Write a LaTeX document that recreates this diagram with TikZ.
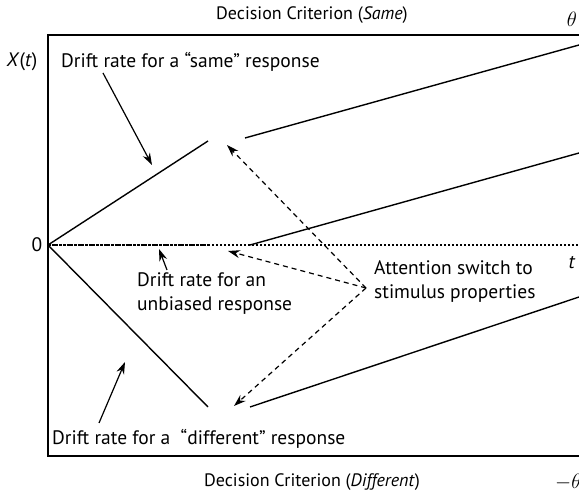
\documentclass[tikz,border=0pt]{standalone}
\usepackage{fontspec}
\setmainfont{PT Sans}
\usetikzlibrary{arrows.meta}
\tikzset{
  lbl/.style={inner sep=0pt, font=\fontsize{19.5}{24}\selectfont},
  ttl/.style={inner sep=0pt, font=\fontsize{18}{22}\selectfont},
  solidline/.style={line width=1.4pt},
  framel/.style={line width=1.3pt},
  ptr/.style={line width=1.2pt, -{Stealth[length=12pt,width=8pt]}},
  dptr/.style={line width=1.2pt, dash pattern=on 5pt off 4pt, -{Stealth[length=12pt,width=8pt]}},
}
\begin{document}
\begin{tikzpicture}[x=1pt,y=-1pt]
\useasboundingbox (0,0) rectangle (579,494);
% frame
\coordinate (TL) at (48,35);
\coordinate (TR) at (579,35);
\coordinate (BL) at (48,456);
\coordinate (BR) at (579,456);
\draw[framel] (TR) -- (TL) -- (BL) -- (BR);
% drift lines
\coordinate (O) at (48,245);
\coordinate (s1) at (208,141);
\coordinate (s2a) at (245,138);
\coordinate (s2b) at (579,45);
\coordinate (m1) at (208,245);
\coordinate (m1b) at (579,245);
\coordinate (m2a) at (250,245);
\coordinate (m2b) at (579,153);
\coordinate (d1) at (208,407);
\coordinate (d2a) at (250,407);
\coordinate (d2b) at (579,297);
\draw[solidline] (O) -- (s1);
\draw[solidline] (s2a) -- (s2b);
\draw[line width=1.6pt, dash pattern=on 3pt off 0.7pt] (O) -- (m1);
\draw[line width=1.8pt, dash pattern=on 1.6pt off 2.4pt] (m1) -- (m1b);
\draw[solidline] (m2a) -- (m2b);
\draw[solidline] (O) -- (d1);
\draw[solidline] (d2a) -- (d2b);
% texts
\node[ttl] (ttop) at (312,15) {Decision Criterion (\textit{Same})};
\node[lbl] (th) at (572,19) {$\theta$};
\node[lbl] (xt) at (22,62) {\textit{X}(\textit{t})};
\node[lbl, anchor=west] (same) at (61,62) {Drift rate for a “same” response};
\node[lbl] (zero) at (37,245) {0};
\node[lbl, anchor=west, align=left] (unb) at (137,294) {Drift rate for an\\unbiased response};
\node[lbl, anchor=west, align=left] (att) at (374,282) {Attention switch to\\stimulus properties};
\node[lbl] (tt) at (572,263) {\textit{t}};
\node[lbl, anchor=west] (diff) at (52,439) {Drift rate for a \ “different” response};
\node[ttl] (tbot) at (312,482) {Decision Criterion (\textit{Different})};
\node[lbl, anchor=west] (mth) at (555,482) {$-\theta$};
% solid pointers
\coordinate (sa) at (103,73);
\coordinate (sb) at (152,165);
\draw[ptr] (sa) -- (sb);
\coordinate (ua) at (167,270);
\coordinate (ub) at (159,249);
\draw[ptr] (ua) -- (ub);
\coordinate (da) at (99,423);
\coordinate (db) at (125,362);
\draw[ptr] (da) -- (db);
% attention arrows
\coordinate (A) at (366,288);
\coordinate (a1) at (227,145);
\coordinate (a2) at (228,251);
\coordinate (a3) at (234,406);
\draw[dptr] (A) -- (a1);
\draw[dptr] (A) -- (a2);
\draw[dptr] (A) -- (a3);
\end{tikzpicture}
\end{document}
